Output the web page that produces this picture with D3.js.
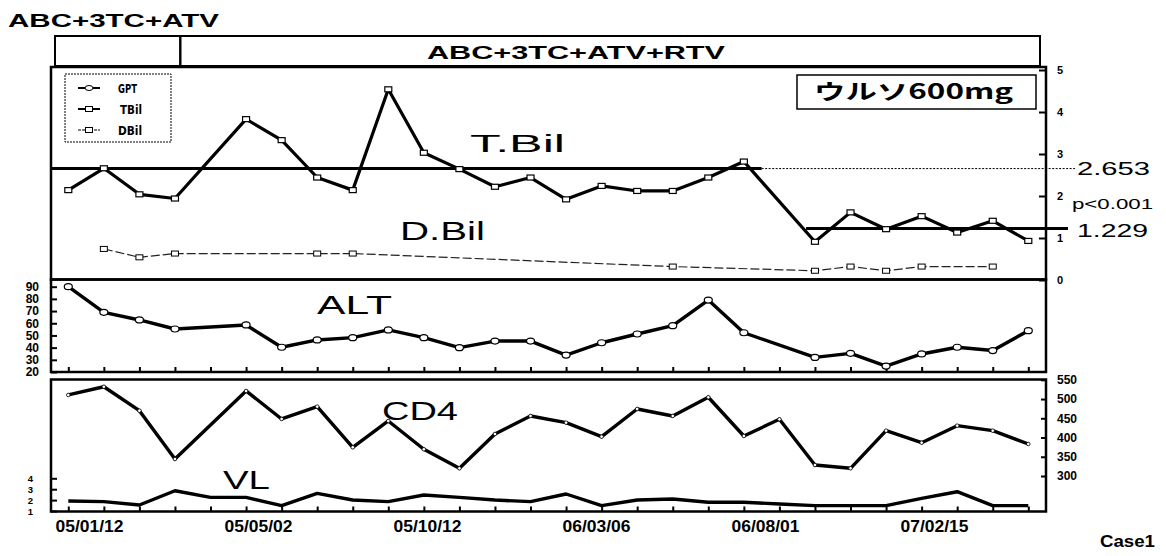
<!DOCTYPE html>
<html>
<head>
<meta charset="utf-8">
<script src="https://cdn.jsdelivr.net/npm/d3@7"></script>
<style>
  body { margin: 0; background: #fff; }
  svg { display: block; font-family: "Liberation Sans", Arial, sans-serif; }
</style>
</head>
<body>
<div id="chart"></div>
<script>
// visit dates shown on the x axis (every 5th visit)
const dateLabels = ['05/01/12', '05/05/02', '05/10/12', '06/03/06', '06/08/01', '07/02/15'];

// one value per visit, null = not measured
const tbil = [2.14, 2.66, 2.04, 1.94, null, 3.83, 3.33, 2.44, 2.14, 4.54, 3.03, 2.64, 2.22, 2.44,
  1.92, 2.24, 2.12, 2.12, 2.44, 2.82, null, 0.91, 1.61, 1.21, 1.52, 1.13, 1.41, 0.93];
const dbil = [null, 0.74, 0.54, 0.63, null, null, null, 0.63, 0.63, null, null, null, null, null,
  null, null, null, 0.32, null, null, null, 0.22, 0.32, 0.22, 0.32, null, 0.32, null];
const alt = [90, 69, 62.7, 55.3, null, 58.6, 40.3, 46.3, 48.2, 54.5, 48.2, 40, 45.4, 45.4,
  33.9, 44, 51.2, 58, 79, 52.2, null, 32, 35.3, 24.9, 34.8, 40.3, 37.6, 53.9];
const cd4 = [510.6, 532, 469.8, 344.2, null, 521, 448.2, 480.2, 374.6, 443, 369.4, 320, 409.2, 456,
  438.6, 402.2, 474.2, 456, 504.6, 404, 447.4, 328.6, 320, 417.8, 386.6, 430.8, 417.8, 383.2];
const vl = [1.92, 1.86, 1.55, 2.86, 2.25, 2.25, 1.49, 2.62, 2.01, 1.86, 2.47, 2.25, 2.01, 1.86,
  2.56, 1.49, 2.01, 2.1, 1.8, 1.8, 1.64, 1.49, 1.49, 1.49, 2.16, 2.77, 1.49, 1.49];

// T.Bil means before / after ursodiol
const tbilMeanBefore = 2.653;
const tbilMeanAfter = 1.229;
const regimens = ['ABC+3TC+ATV', 'ABC+3TC+ATV+RTV'];
const rtvStart = 3.15;   // visit index where RTV was added
const ursoStart = 20;    // visit index where ursodiol started
const legendItems = ['GPT', 'TBil', 'DBil'];

const width = 1166;
const height = 556;
const left = 51;
const right = 1046;

const svg = d3.select('#chart').append('svg')
  .attr('width', width)
  .attr('height', height);

const x = d3.scaleLinear().domain([0, tbil.length - 1]).range([68.3, 1028.3]);
const yT = d3.scaleLinear().domain([0, 5]).range([280, 70]);
const yA = d3.scaleLinear().domain([20, 90]).range([372, 286.7]);
const yC = d3.scaleLinear().domain([300, 550]).range([476, 379.8]);
const yV = d3.scaleLinear().domain([1, 4]).range([511, 478.3]);
const xLab = d3.scalePoint().domain(dateLabels).range([89, 934]);

const pts = arr => arr.map((v, i) => [i, v]).filter(d => d[1] !== null);

function text(str, tx, ty, size, len, weight, family) {
  const t = svg.append('text')
    .attr('x', tx).attr('y', ty)
    .attr('font-size', size)
    .attr('font-weight', weight || 'normal')
    .text(str);
  if (family) t.attr('font-family', family);
  if (len) t.attr('textLength', len).attr('lengthAdjust', 'spacingAndGlyphs');
  return t;
}

// header: regimen boxes
text(regimens[0], 8, 27, 19, 211, 'bold');
svg.append('rect').attr('x', 55).attr('y', 36).attr('width', x(rtvStart) - 55).attr('height', 30)
  .attr('fill', 'none').attr('stroke', '#000').attr('stroke-width', 2);
svg.append('rect').attr('x', x(rtvStart)).attr('y', 36).attr('width', 1040 - x(rtvStart)).attr('height', 30)
  .attr('fill', 'none').attr('stroke', '#000').attr('stroke-width', 2);
text(regimens[1], 427, 58.5, 19, 298, 'bold');

// panel frames
const panels = [[67, 279.5], [279.5, 372], [379.5, 511.5]];
panels.forEach(p => {
  svg.append('rect').attr('x', left).attr('y', p[0]).attr('width', right - left).attr('height', p[1] - p[0])
    .attr('fill', 'none').attr('stroke', '#000').attr('stroke-width', 2.5);
});

// axes
function styleAxis(g, size) {
  g.select('.domain').remove();
  g.selectAll('line').attr('stroke', '#000').attr('stroke-width', 2);
  g.selectAll('text').attr('font-size', size).attr('font-weight', 'bold')
    .attr('font-family', '"Liberation Sans", Arial, sans-serif');
}

svg.append('g').attr('transform', `translate(${right},0)`)
  .call(d3.axisRight(yT).ticks(5).tickSizeInner(-7).tickSizeOuter(0).tickPadding(11))
  .call(g => styleAxis(g, 11));

svg.append('g').attr('transform', `translate(${left},0)`)
  .call(d3.axisLeft(yA).tickValues(d3.range(20, 91, 10)).tickSizeInner(-6).tickSizeOuter(0).tickPadding(12))
  .call(g => styleAxis(g, 12));

svg.append('g').attr('transform', `translate(${right},0)`)
  .call(d3.axisRight(yC).tickValues([300, 350, 400, 450, 500, 550]).tickSizeInner(-5).tickSizeOuter(0).tickPadding(11))
  .call(g => styleAxis(g, 12));

svg.append('g').attr('transform', `translate(${left},0)`)
  .call(d3.axisLeft(yV).tickValues([1, 2, 3, 4]).tickFormat(d3.format('d'))
    .tickSizeInner(-6).tickSizeOuter(0).tickPadding(18))
  .call(g => styleAxis(g, 9.5));

[372, 511.5].forEach(yy => {
  svg.append('g').attr('transform', `translate(0,${yy})`)
    .call(d3.axisBottom(x).tickValues(d3.range(tbil.length)).tickFormat('').tickSizeInner(-5).tickSizeOuter(0))
    .call(g => styleAxis(g, 10));
});

svg.append('g').attr('transform', 'translate(0,511.5)')
  .call(d3.axisBottom(xLab).tickSize(0).tickPadding(8.5))
  .call(g => {
    g.select('.domain').remove();
    g.selectAll('text').attr('font-size', 17).attr('font-weight', 'bold')
      .attr('font-family', '"Liberation Sans", Arial, sans-serif')
      .attr('textLength', 68).attr('lengthAdjust', 'spacingAndGlyphs');
  });

// T.Bil mean lines
svg.append('line')
  .attr('x1', x(-0.5)).attr('x2', x(ursoStart - 0.5))
  .attr('y1', yT(tbilMeanBefore)).attr('y2', yT(tbilMeanBefore))
  .attr('stroke', '#000').attr('stroke-width', 3);
svg.append('line')
  .attr('x1', x(ursoStart - 0.5)).attr('x2', 1075)
  .attr('y1', yT(tbilMeanBefore)).attr('y2', yT(tbilMeanBefore))
  .attr('stroke', '#000').attr('stroke-width', 1).attr('stroke-dasharray', '2,1.5');
svg.append('line')
  .attr('x1', x(ursoStart + 0.75)).attr('x2', 1068)
  .attr('y1', yT(tbilMeanAfter)).attr('y2', yT(tbilMeanAfter))
  .attr('stroke', '#000').attr('stroke-width', 3);

text(d3.format('.3f')(tbilMeanBefore), 1077, 175, 19, 73);
text('p<0.001', 1072, 208.5, 14, 81);
text(d3.format('.3f')(tbilMeanAfter), 1077, 236.5, 19, 71);

// lines
const line = yScale => d3.line().x(d => x(d[0])).y(d => yScale(d[1]));

svg.append('path').datum(pts(dbil)).attr('d', line(yT))
  .attr('fill', 'none').attr('stroke', '#222').attr('stroke-width', 1.2).attr('stroke-dasharray', '9,3');
svg.append('path').datum(pts(tbil)).attr('d', line(yT))
  .attr('fill', 'none').attr('stroke', '#000').attr('stroke-width', 3.2).attr('stroke-linejoin', 'round');
svg.append('path').datum(pts(alt)).attr('d', line(yA))
  .attr('fill', 'none').attr('stroke', '#000').attr('stroke-width', 3.4).attr('stroke-linejoin', 'round');
svg.append('path').datum(pts(cd4)).attr('d', line(yC))
  .attr('fill', 'none').attr('stroke', '#000').attr('stroke-width', 3.4).attr('stroke-linejoin', 'round');
svg.append('path').datum(vl.map((v, i) => [i, v])).attr('d', line(yV))
  .attr('fill', 'none').attr('stroke', '#000').attr('stroke-width', 3.4).attr('stroke-linejoin', 'round');

// markers
function squares(arr, yScale, sw) {
  svg.append('g').selectAll('rect').data(pts(arr)).join('rect')
    .attr('x', d => x(d[0]) - 3.5).attr('y', d => yScale(d[1]) - 2.5)
    .attr('width', 7).attr('height', 5)
    .attr('fill', '#fff').attr('stroke', '#000').attr('stroke-width', sw);
}
squares(dbil, yT, 1);
squares(tbil, yT, 1.2);

svg.append('g').selectAll('ellipse').data(pts(alt)).join('ellipse')
  .attr('cx', d => x(d[0])).attr('cy', d => yA(d[1]))
  .attr('rx', 4).attr('ry', 3)
  .attr('fill', '#fff').attr('stroke', '#000').attr('stroke-width', 1.2);

svg.append('g').selectAll('circle').data(pts(cd4)).join('circle')
  .attr('cx', d => x(d[0])).attr('cy', d => yC(d[1]))
  .attr('r', 1.8)
  .attr('fill', '#fff').attr('stroke', '#000').attr('stroke-width', 0.8);

// legend
svg.append('rect').attr('x', 65).attr('y', 74).attr('width', 106).attr('height', 68)
  .attr('fill', '#fff').attr('stroke', '#000').attr('stroke-width', 1).attr('stroke-dasharray', '2,1');
legendItems.forEach((name, i) => {
  const ly = 88 + i * 21;
  svg.append('line').attr('x1', 78).attr('x2', 100).attr('y1', ly).attr('y2', ly)
    .attr('stroke', '#000').attr('stroke-width', i === 2 ? 1 : 2)
    .attr('stroke-dasharray', i === 2 ? '3,1' : null);
  if (i === 0) {
    svg.append('ellipse').attr('cx', 89).attr('cy', ly).attr('rx', 4).attr('ry', 2.5)
      .attr('fill', '#fff').attr('stroke', '#000');
  } else {
    svg.append('rect').attr('x', 85.5).attr('y', ly - 2.5).attr('width', 7).attr('height', 5)
      .attr('fill', '#fff').attr('stroke', '#000');
  }
  text(name, 118 + (i === 1 ? 2 : 0), ly + 5, 13, [19, 22, 24][i], 'bold', '"DejaVu Sans Condensed", "DejaVu Sans", sans-serif');
});

// ursodiol box
svg.append('rect').attr('x', 797).attr('y', 75).attr('width', 239).attr('height', 34)
  .attr('fill', '#fff').attr('stroke', '#000').attr('stroke-width', 1.5);
text('ウルソ600mg', 814, 99, 21, 199, 'bold', '"Noto Sans CJK JP", sans-serif');

// series names
text('T.Bil', 470, 152, 23, 95);
text('D.Bil', 400, 240, 25, 85);
text('ALT', 317, 313.5, 25, 75);
text('CD4', 382, 419.5, 26, 76);
text('VL', 223, 488.5, 25, 47);
text('Case1', 1100, 547, 17, 55, 'bold');
</script>
</body>
</html>
